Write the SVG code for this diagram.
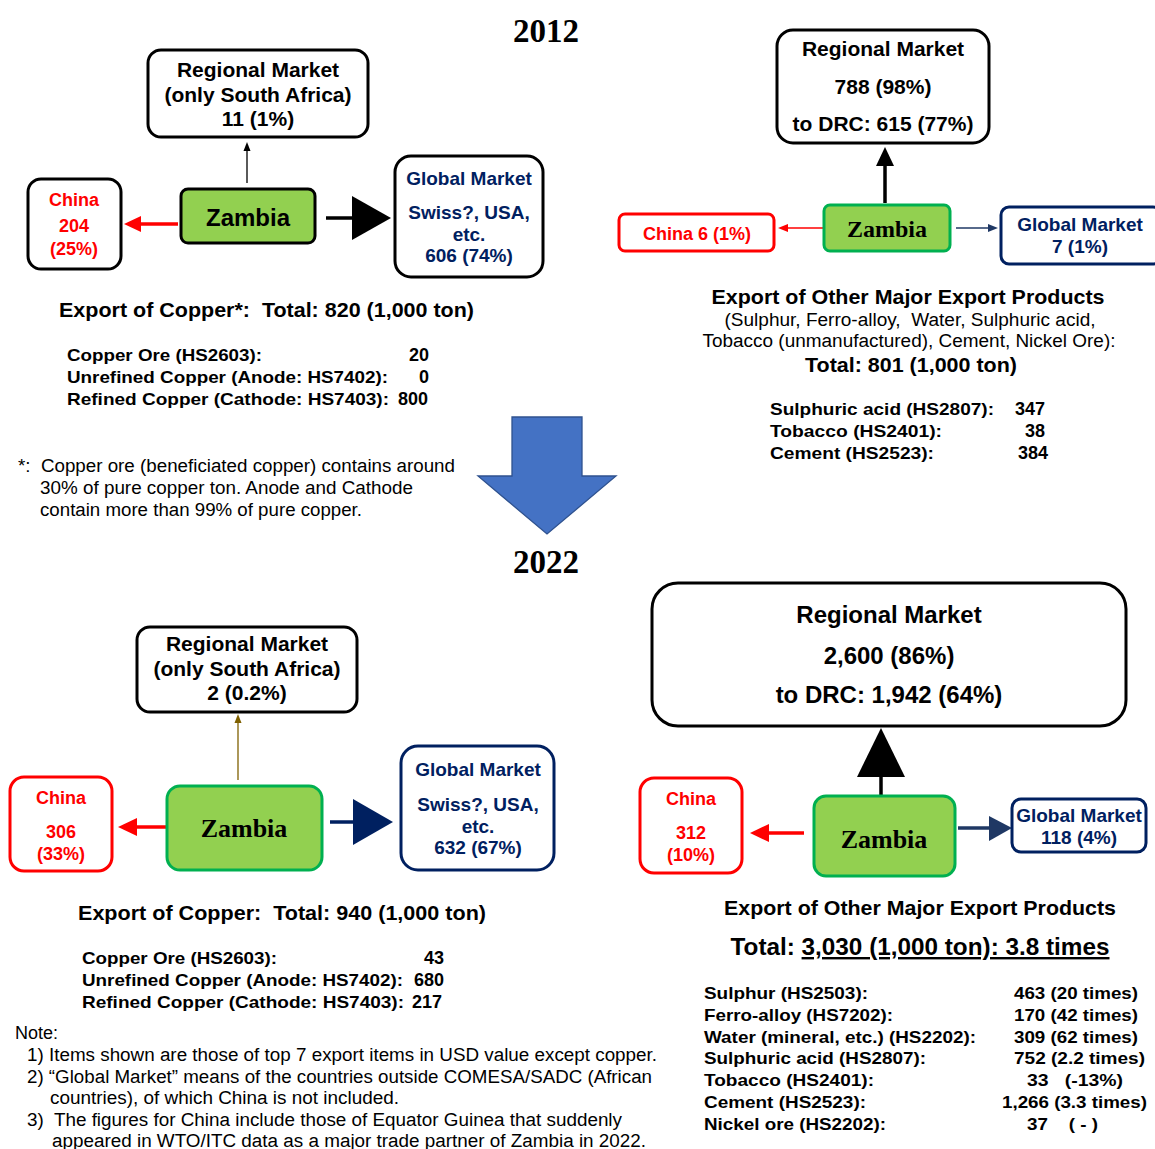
<svg xmlns="http://www.w3.org/2000/svg" width="1155" height="1149" viewBox="0 0 1155 1149">
  <style>
    text { font-family: "Liberation Sans", Arial, sans-serif; white-space: pre; }
    .b { font-weight: bold; }
    .year { font-family: "Liberation Serif", "Times New Roman", serif; font-weight: bold; font-size: 33px; }
    .zs { font-family: "Liberation Serif", "Times New Roman", serif; font-weight: bold; }
    .box { fill: #fff; stroke-width: 3; }
    .k { stroke: #000; }
    .r { stroke: #FF0000; }
    .n { stroke: #002060; }
    .zam { fill: #92D050; stroke-width: 3; }
    .red { fill: #FF0000; }
    .navy { fill: #002060; }
    .mid { text-anchor: middle; }
    .end { text-anchor: end; }
    .t17 { font-size: 17px; }
    .t18 { font-size: 18px; }
    .t19 { font-size: 19px; }
    .t21 { font-size: 21px; }
    .t24 { font-size: 24px; }
  </style>

  <!-- ===== 2012 ===== -->
  <text class="year mid" x="546" y="42">2012</text>

  <!-- connectors, 2012 copper -->
  <g id="connectors-2012-copper">
    <line x1="247" y1="183" x2="247" y2="150" stroke="#000" stroke-width="1.3"/>
    <polygon points="247,142 243.5,151 250.5,151" fill="#000"/>
    <line x1="178" y1="224" x2="138" y2="224" stroke="#FF0000" stroke-width="3.5"/>
    <polygon points="124,224 141,216 141,232" fill="#FF0000"/>
    <line x1="326" y1="218" x2="354" y2="218" stroke="#000" stroke-width="3.5"/>
    <polygon points="352,196 352,240 391,218" fill="#000"/>
  </g>

  <g id="rm-2012-copper">
    <rect class="box k" x="148" y="50" width="220" height="87" rx="13"/>
    <text class="b t21 mid" x="258" y="77">Regional Market</text>
    <text class="b t21 mid" x="258" y="102">(only South Africa)</text>
    <text class="b t21 mid" x="258" y="126">11 (1%)</text>
  </g>
  <g id="zambia-2012-copper">
    <rect class="zam" x="181" y="189" width="134" height="54" rx="7" stroke="#000"/>
    <text class="b t24 mid" x="248" y="226">Zambia</text>
  </g>
  <g id="china-2012-copper">
    <rect class="box k" x="28" y="179" width="93" height="90" rx="13"/>
    <text class="b t18 mid red" x="74" y="206">China</text>
    <text class="b t18 mid red" x="74" y="232">204</text>
    <text class="b t18 mid red" x="74" y="255">(25%)</text>
  </g>
  <g id="global-2012-copper">
    <rect class="box k" x="395" y="156" width="148" height="121" rx="16"/>
    <text class="b t19 mid navy" x="469" y="185">Global Market</text>
    <text class="b t19 mid navy" x="469" y="219">Swiss?, USA,</text>
    <text class="b t19 mid navy" x="469" y="241">etc.</text>
    <text class="b t19 mid navy" x="469" y="262">606 (74%)</text>
  </g>

  <g id="copper-2012-text">
    <text class="b t21" x="59" y="317" textLength="415" lengthAdjust="spacingAndGlyphs">Export of Copper*:  Total: 820 (1,000 ton)</text>
    <text class="b t17" x="67" y="361" textLength="195" lengthAdjust="spacingAndGlyphs">Copper Ore (HS2603):</text>
    <text class="b t17" x="67" y="383" textLength="321" lengthAdjust="spacingAndGlyphs">Unrefined Copper (Anode: HS7402):</text>
    <text class="b t17" x="67" y="405" textLength="322" lengthAdjust="spacingAndGlyphs">Refined Copper (Cathode: HS7403):</text>
    <text class="b t18 end" x="429" y="361">20</text>
    <text class="b t18 end" x="429" y="383">0</text>
    <text class="b t18 end" x="428" y="405">800</text>
    <text class="t18" x="18" y="472" textLength="437" lengthAdjust="spacingAndGlyphs">*:  Copper ore (beneficiated copper) contains around</text>
    <text class="t18" x="40" y="494" textLength="373" lengthAdjust="spacingAndGlyphs">30% of pure copper ton. Anode and Cathode</text>
    <text class="t18" x="40" y="516" textLength="322" lengthAdjust="spacingAndGlyphs">contain more than 99% of pure copper.</text>
  </g>

  <!-- connectors, 2012 other products -->
  <g id="connectors-2012-other">
    <line x1="885" y1="203" x2="885" y2="165" stroke="#000" stroke-width="3.5"/>
    <polygon points="885,147 876,166 894,166" fill="#000"/>
    <line x1="823" y1="228" x2="786" y2="228" stroke="#FF0000" stroke-width="1.3"/>
    <polygon points="778,228 788,224 788,232" fill="#FF0000"/>
    <line x1="956" y1="228" x2="990" y2="228" stroke="#1F3864" stroke-width="1.3"/>
    <polygon points="998,228 988,224 988,232" fill="#1F3864"/>
  </g>

  <g id="rm-2012-other">
    <rect class="box k" x="777" y="30" width="212" height="113" rx="16"/>
    <text class="b t21 mid" x="883" y="56">Regional Market</text>
    <text class="b t21 mid" x="883" y="94">788 (98%)</text>
    <text class="b t21 mid" x="883" y="131">to DRC: 615 (77%)</text>
  </g>
  <g id="zambia-2012-other">
    <rect class="zam" x="824" y="205" width="126" height="46" rx="6" stroke="#00B050"/>
    <text class="zs t24 mid" x="887" y="237">Zambia</text>
  </g>
  <g id="china-2012-other">
    <rect class="box r" x="619" y="214" width="155" height="37" rx="6"/>
    <text class="b t18 mid red" x="697" y="240">China 6 (1%)</text>
  </g>
  <g id="global-2012-other">
    <rect class="box n" x="1001" y="207" width="160" height="57" rx="8"/>
    <text class="b t19 mid navy" x="1080" y="231">Global Market</text>
    <text class="b t19 mid navy" x="1080" y="253">7 (1%)</text>
  </g>

  <g id="other-2012-text">
    <text class="b t21 mid" x="908" y="304" textLength="393" lengthAdjust="spacingAndGlyphs">Export of Other Major Export Products</text>
    <text class="t18 mid" x="910" y="326" textLength="371" lengthAdjust="spacingAndGlyphs">(Sulphur, Ferro-alloy,  Water, Sulphuric acid,</text>
    <text class="t18 mid" x="909" y="347" textLength="413" lengthAdjust="spacingAndGlyphs">Tobacco (unmanufactured), Cement, Nickel Ore):</text>
    <text class="b t21 mid" x="911" y="372" textLength="212" lengthAdjust="spacingAndGlyphs">Total: 801 (1,000 ton)</text>
    <text class="b t17" x="770" y="415" textLength="224" lengthAdjust="spacingAndGlyphs">Sulphuric acid (HS2807):</text>
    <text class="b t17" x="770" y="437" textLength="172" lengthAdjust="spacingAndGlyphs">Tobacco (HS2401):</text>
    <text class="b t17" x="770" y="459" textLength="164" lengthAdjust="spacingAndGlyphs">Cement (HS2523):</text>
    <text class="b t18 end" x="1045" y="415">347</text>
    <text class="b t18 end" x="1045" y="437">38</text>
    <text class="b t18 end" x="1048" y="459">384</text>
  </g>

  <!-- transition arrow between years -->
  <polygon id="year-arrow" points="512,417 582,417 582,476 616,476 547,534 478,476 512,476" fill="#4472C4" stroke="#2F528F" stroke-width="1.3"/>

  <!-- ===== 2022 ===== -->
  <text class="year mid" x="546" y="573">2022</text>

  <!-- connectors, 2022 copper -->
  <g id="connectors-2022-copper">
    <line x1="238" y1="780" x2="238" y2="722" stroke="#7F6000" stroke-width="1.3"/>
    <polygon points="238,714 234.5,723 241.5,723" fill="#7F6000"/>
    <line x1="167" y1="827" x2="133" y2="827" stroke="#FF0000" stroke-width="3.5"/>
    <polygon points="118,827 137,818 137,836" fill="#FF0000"/>
    <line x1="330" y1="822" x2="355" y2="822" stroke="#002060" stroke-width="3.5"/>
    <polygon points="353,799 353,845 393,822" fill="#002060"/>
  </g>

  <g id="rm-2022-copper">
    <rect class="box k" x="137" y="627" width="220" height="85" rx="13"/>
    <text class="b t21 mid" x="247" y="651">Regional Market</text>
    <text class="b t21 mid" x="247" y="676">(only South Africa)</text>
    <text class="b t21 mid" x="247" y="700">2 (0.2%)</text>
  </g>
  <g id="zambia-2022-copper">
    <rect class="zam" x="167" y="786" width="155" height="84" rx="13" stroke="#00B050"/>
    <text class="zs mid" x="244" y="837" font-size="26">Zambia</text>
  </g>
  <g id="china-2022-copper">
    <rect class="box r" x="10" y="777" width="102" height="94" rx="14"/>
    <text class="b t18 mid red" x="61" y="804">China</text>
    <text class="b t18 mid red" x="61" y="838">306</text>
    <text class="b t18 mid red" x="61" y="860">(33%)</text>
  </g>
  <g id="global-2022-copper">
    <rect class="box n" x="401" y="746" width="153" height="124" rx="17"/>
    <text class="b t19 mid navy" x="478" y="776">Global Market</text>
    <text class="b t19 mid navy" x="478" y="811">Swiss?, USA,</text>
    <text class="b t19 mid navy" x="478" y="833">etc.</text>
    <text class="b t19 mid navy" x="478" y="854">632 (67%)</text>
  </g>

  <g id="copper-2022-text">
    <text class="b t21" x="78" y="920" textLength="408" lengthAdjust="spacingAndGlyphs">Export of Copper:  Total: 940 (1,000 ton)</text>
    <text class="b t17" x="82" y="964" textLength="195" lengthAdjust="spacingAndGlyphs">Copper Ore (HS2603):</text>
    <text class="b t17" x="82" y="986" textLength="321" lengthAdjust="spacingAndGlyphs">Unrefined Copper (Anode: HS7402):</text>
    <text class="b t17" x="82" y="1008" textLength="322" lengthAdjust="spacingAndGlyphs">Refined Copper (Cathode: HS7403):</text>
    <text class="b t18 end" x="444" y="964">43</text>
    <text class="b t18 end" x="444" y="986">680</text>
    <text class="b t18 end" x="442" y="1008">217</text>
    <text class="t18" x="15" y="1039" textLength="43" lengthAdjust="spacingAndGlyphs">Note:</text>
    <text class="t18" x="27" y="1061" textLength="630" lengthAdjust="spacingAndGlyphs">1) Items shown are those of top 7 export items in USD value except copper.</text>
    <text class="t18" x="27" y="1083" textLength="625" lengthAdjust="spacingAndGlyphs">2) “Global Market” means of the countries outside COMESA/SADC (African</text>
    <text class="t18" x="50" y="1104" textLength="349" lengthAdjust="spacingAndGlyphs">countries), of which China is not included.</text>
    <text class="t18" x="27" y="1126" textLength="595" lengthAdjust="spacingAndGlyphs">3)  The figures for China include those of Equator Guinea that suddenly</text>
    <text class="t18" x="52" y="1147" textLength="594" lengthAdjust="spacingAndGlyphs">appeared in WTO/ITC data as a major trade partner of Zambia in 2022.</text>
  </g>

  <!-- connectors, 2022 other products -->
  <g id="connectors-2022-other">
    <line x1="881" y1="796" x2="881" y2="775" stroke="#000" stroke-width="3.5"/>
    <polygon points="881,728 857,777 905,777" fill="#000"/>
    <line x1="804" y1="833" x2="766" y2="833" stroke="#FF0000" stroke-width="3.5"/>
    <polygon points="750,833 769,824 769,842" fill="#FF0000"/>
    <line x1="958" y1="828" x2="991" y2="828" stroke="#1F3864" stroke-width="3.5"/>
    <polygon points="989,816 989,841 1012,828" fill="#1F3864"/>
  </g>

  <g id="rm-2022-other">
    <rect class="box k" x="652" y="583" width="474" height="143" rx="26"/>
    <text class="b t24 mid" x="889" y="623">Regional Market</text>
    <text class="b t24 mid" x="889" y="664">2,600 (86%)</text>
    <text class="b t24 mid" x="889" y="703">to DRC: 1,942 (64%)</text>
  </g>
  <g id="zambia-2022-other">
    <rect class="zam" x="814" y="796" width="141" height="80" rx="12" stroke="#00B050"/>
    <text class="zs mid" x="884" y="848" font-size="26">Zambia</text>
  </g>
  <g id="china-2022-other">
    <rect class="box r" x="640" y="778" width="102" height="95" rx="14"/>
    <text class="b t18 mid red" x="691" y="805">China</text>
    <text class="b t18 mid red" x="691" y="839">312</text>
    <text class="b t18 mid red" x="691" y="861">(10%)</text>
  </g>
  <g id="global-2022-other">
    <rect class="box n" x="1012" y="799" width="134" height="53" rx="9"/>
    <text class="b t19 mid navy" x="1079" y="822">Global Market</text>
    <text class="b t19 mid navy" x="1079" y="844">118 (4%)</text>
  </g>

  <g id="other-2022-text">
    <text class="b t21 mid" x="920" y="915" textLength="392" lengthAdjust="spacingAndGlyphs">Export of Other Major Export Products</text>
    <text class="b t24 mid" x="920" y="955" textLength="379" lengthAdjust="spacingAndGlyphs">Total: <tspan text-decoration="underline">3,030 (1,000 ton): 3.8 times</tspan></text>
    <text class="b t17" x="704" y="999" textLength="164" lengthAdjust="spacingAndGlyphs">Sulphur (HS2503):</text>
    <text class="b t17" x="704" y="1021" textLength="189" lengthAdjust="spacingAndGlyphs">Ferro-alloy (HS7202):</text>
    <text class="b t17" x="704" y="1043" textLength="272" lengthAdjust="spacingAndGlyphs">Water (mineral, etc.) (HS2202):</text>
    <text class="b t17" x="704" y="1064" textLength="222" lengthAdjust="spacingAndGlyphs">Sulphuric acid (HS2807):</text>
    <text class="b t17" x="704" y="1086" textLength="170" lengthAdjust="spacingAndGlyphs">Tobacco (HS2401):</text>
    <text class="b t17" x="704" y="1108" textLength="162" lengthAdjust="spacingAndGlyphs">Cement (HS2523):</text>
    <text class="b t17" x="704" y="1130" textLength="182" lengthAdjust="spacingAndGlyphs">Nickel ore (HS2202):</text>
    <text class="b t17" x="1014" y="999" textLength="124" lengthAdjust="spacingAndGlyphs">463 (20 times)</text>
    <text class="b t17" x="1014" y="1021" textLength="124" lengthAdjust="spacingAndGlyphs">170 (42 times)</text>
    <text class="b t17" x="1014" y="1043" textLength="124" lengthAdjust="spacingAndGlyphs">309 (62 times)</text>
    <text class="b t17" x="1014" y="1064" textLength="131" lengthAdjust="spacingAndGlyphs">752 (2.2 times)</text>
    <text class="b t17" x="1027" y="1086" textLength="96" lengthAdjust="spacingAndGlyphs">33   (-13%)</text>
    <text class="b t17" x="1002" y="1108" textLength="145" lengthAdjust="spacingAndGlyphs">1,266 (3.3 times)</text>
    <text class="b t17" x="1027" y="1130" textLength="71" lengthAdjust="spacingAndGlyphs">37    ( - )</text>
  </g>
</svg>
